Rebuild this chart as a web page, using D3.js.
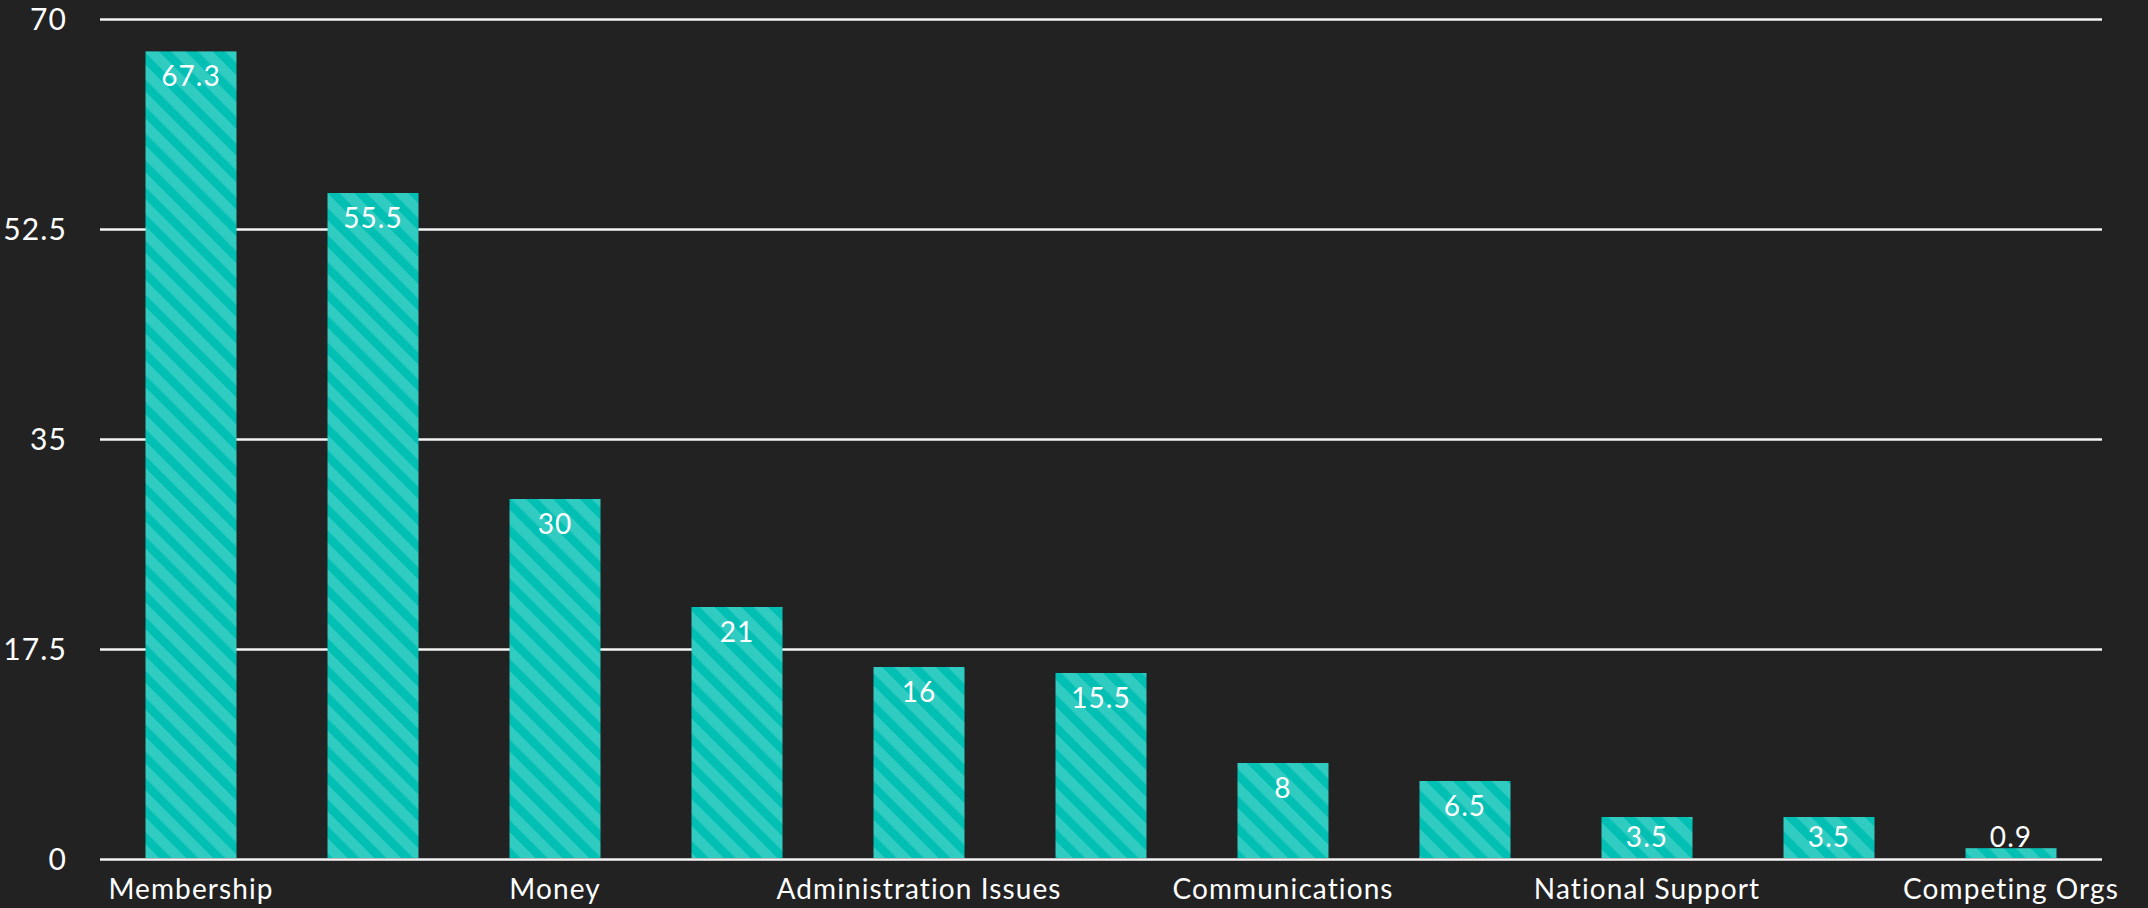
<!DOCTYPE html>
<html>
<head>
<meta charset="utf-8">
<script src="https://cdn.jsdelivr.net/npm/d3@7"></script>
<style>
  html, body { margin: 0; padding: 0; background: #222222; }
  svg { display: block; }
  text { font-family: "Lato", "Open Sans", sans-serif; fill: #ffffff; letter-spacing: 1.1px; }
</style>
</head>
<body>
<div id="chart"></div>
<script>
// category labels (Excel skipped every second one, so those are left blank)
const categories = ["Membership", "", "Money", "", "Administration Issues", "",
                    "Communications", "", "National Support", "", "Competing Orgs"];
const values = [67.3, 55.5, 30, 21, 16, 15.5, 8, 6.5, 3.5, 3.5, 0.9];
const yTicks = [0, 17.5, 35, 52.5, 70];

const W = 2148, H = 908;
const plotL = 100, plotR = 2102, plotT = 19, plotB = 859;

const svg = d3.select("#chart")
  .append("svg")
  .attr("width", W)
  .attr("height", H);

svg.append("rect")
  .attr("width", W)
  .attr("height", H)
  .attr("fill", "#222222");

// diagonal stripe fill
const defs = svg.append("defs");
const pat = defs.append("pattern")
  .attr("id", "stripes")
  .attr("patternUnits", "userSpaceOnUse")
  .attr("width", 19)
  .attr("height", 19)
  .attr("patternTransform", "rotate(-45)");
pat.append("rect").attr("width", 19).attr("height", 19).attr("fill", "#30ccc2");
pat.append("rect").attr("width", 8.5).attr("height", 19).attr("fill", "#02bfb3");

const x = d3.scaleBand()
  .domain(d3.range(values.length))
  .range([plotL, plotR])
  .paddingInner(0.5)
  .paddingOuter(0.25);

const y = d3.scaleLinear()
  .domain([0, 70])
  .range([plotB, plotT]);

// gridlines + y labels
const yAxis = svg.append("g")
  .attr("transform", `translate(${plotL},0)`)
  .call(d3.axisLeft(y)
    .tickValues(yTicks)
    .tickSize(-(plotR - plotL))
    .tickPadding(33)
    .tickFormat(d => d));
yAxis.select(".domain").remove();
yAxis.selectAll("line")
  .attr("stroke", "#f4f4f4")
  .attr("stroke-width", 2.5);
yAxis.selectAll("text")
  .attr("font-size", 30)
  .attr("fill", "#ffffff")
  .attr("dy", "0.36em");

// bars
svg.selectAll("rect.bar")
  .data(values)
  .enter()
  .append("rect")
  .attr("class", "bar")
  .attr("x", (d, i) => x(i))
  .attr("y", d => y(d))
  .attr("width", x.bandwidth())
  .attr("height", d => y(0) - y(d) - 1)
  .attr("fill", "url(#stripes)");

// value labels, inside end (pushed up when the bar is too short)
svg.selectAll("text.val")
  .data(values)
  .enter()
  .append("text")
  .attr("class", "val")
  .attr("x", (d, i) => x(i) + x.bandwidth() / 2)
  .attr("y", d => Math.min(y(d) + 35, y(0) - 12))
  .attr("text-anchor", "middle")
  .attr("font-size", 28)
  .text(d => d);

// x labels; the first one is pushed right so it starts at the plot edge
const xl = svg.selectAll("text.cat")
  .data(categories)
  .enter()
  .append("text")
  .attr("class", "cat")
  .attr("y", 899)
  .attr("font-size", 28)
  .text(d => d);
xl.each(function(d, i) {
  const c = x(i) + x.bandwidth() / 2;
  const w = this.getComputedTextLength();
  if (c - w / 2 < plotL) {
    d3.select(this).attr("x", plotL + 4).attr("text-anchor", "start");
  } else {
    d3.select(this).attr("x", c).attr("text-anchor", "middle");
  }
});
</script>
</body>
</html>
